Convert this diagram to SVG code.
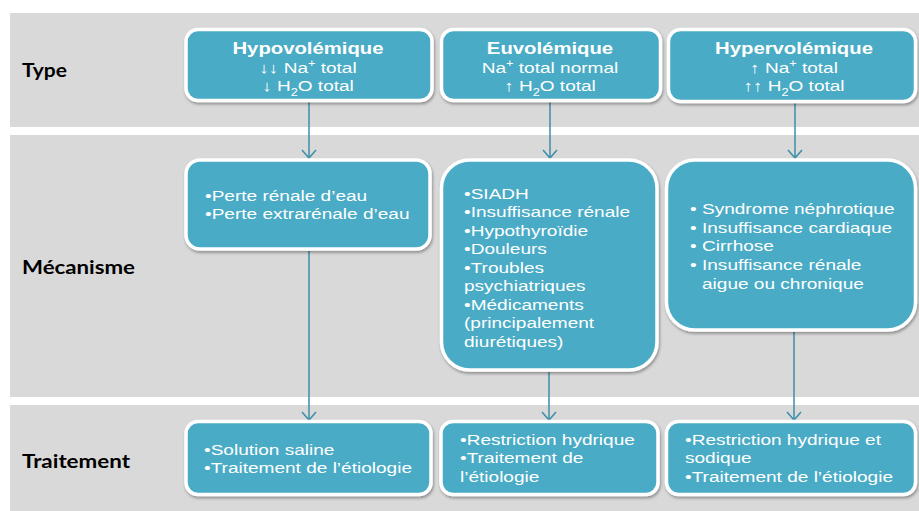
<svg xmlns="http://www.w3.org/2000/svg" width="919" height="511" viewBox="0 0 919 511">
<style>
.band{fill:#d9d9d9}
.box{fill:#4aabc5;stroke:#ffffff;stroke-width:3.5;filter:url(#sh)}
.lbl{font-family:Lato,"Open Sans","Liberation Sans",sans-serif;font-weight:bold;font-size:18px;fill:#000}
.h{font-family:"Liberation Sans",Arial,sans-serif;font-weight:bold;font-size:16px;fill:#fff}
.t{font-family:"Liberation Sans",Arial,sans-serif;font-size:15px;fill:#fff}
.sub{font-size:10px}
.con{stroke:#3d8ea9;stroke-width:1.5;fill:none}
</style>
<defs>
<filter id="sh" x="-10%" y="-10%" width="120%" height="130%">
<feDropShadow dx="1" dy="2" stdDeviation="1.5" flood-color="#000" flood-opacity="0.35"/>
</filter>
<marker id="ah" markerWidth="16" markerHeight="16" refX="10" refY="8" orient="auto" markerUnits="userSpaceOnUse" viewBox="0 0 16 16">
<path d="M2,1 L10,8 L2,15" fill="none" stroke="#3d8ea9" stroke-width="1.5"/>
</marker>
</defs>
<rect width="919" height="511" fill="#fff"/>
<g id="bands">
<rect class="band" x="10" y="13" width="909" height="114"/>
<rect class="band" x="10" y="135" width="909" height="262"/>
<rect class="band" x="10" y="405" width="909" height="106"/>
</g>
<g id="labels">
<text class="lbl" x="22" y="77" textLength="45" lengthAdjust="spacingAndGlyphs">Type</text>
<text class="lbl" x="22" y="274" textLength="113" lengthAdjust="spacingAndGlyphs">Mécanisme</text>
<text class="lbl" x="22" y="468" textLength="108" lengthAdjust="spacingAndGlyphs">Traitement</text>
</g>
<g id="connectors">
<line class="con" x1="309" y1="102" x2="309" y2="158" marker-end="url(#ah)"/>
<line class="con" x1="550" y1="102" x2="550" y2="158" marker-end="url(#ah)"/>
<line class="con" x1="795" y1="103" x2="795" y2="158" marker-end="url(#ah)"/>
<line class="con" x1="309" y1="251" x2="309" y2="420" marker-end="url(#ah)"/>
<line class="con" x1="549" y1="372" x2="549" y2="420" marker-end="url(#ah)"/>
<line class="con" x1="794" y1="332" x2="794" y2="420" marker-end="url(#ah)"/>
</g>
<g id="type-hypo">
<rect class="box" x="186" y="29.5" width="246" height="71" rx="12"/>
<text class="h" text-anchor="middle" transform="translate(308,54) scale(1.27,1)">Hypovolémique</text>
<text class="t" text-anchor="middle" transform="translate(308,72.5) scale(1.27,1)">↓↓ Na<tspan class="sub" baseline-shift="super">+</tspan> total</text>
<text class="t" text-anchor="middle" transform="translate(308,90.5) scale(1.27,1)">↓ H<tspan class="sub" baseline-shift="sub">2</tspan>O total</text>
</g>
<g id="type-euvo">
<rect class="box" x="441.5" y="29.5" width="219" height="71" rx="12"/>
<text class="h" text-anchor="middle" transform="translate(550,54) scale(1.27,1)">Euvolémique</text>
<text class="t" text-anchor="middle" transform="translate(550,72.5) scale(1.27,1)">Na<tspan class="sub" baseline-shift="super">+</tspan> total normal</text>
<text class="t" text-anchor="middle" transform="translate(550,90.5) scale(1.27,1)">↑ H<tspan class="sub" baseline-shift="sub">2</tspan>O total</text>
</g>
<g id="type-hyper">
<rect class="box" x="668.5" y="29.5" width="247" height="72" rx="12"/>
<text class="h" text-anchor="middle" transform="translate(794,54) scale(1.27,1)">Hypervolémique</text>
<text class="t" text-anchor="middle" transform="translate(794,72.5) scale(1.27,1)">↑ Na<tspan class="sub" baseline-shift="super">+</tspan> total</text>
<text class="t" text-anchor="middle" transform="translate(794,90.5) scale(1.27,1)">↑↑ H<tspan class="sub" baseline-shift="sub">2</tspan>O total</text>
</g>
<g id="meca-hypo">
<rect class="box" x="186" y="160" width="244" height="89" rx="14"/>
<text class="t" transform="translate(205,201) scale(1.27,1)"><tspan x="0" y="0">•Perte rénale d’eau</tspan><tspan x="0" y="18.5">•Perte extrarénale d’eau</tspan></text>
</g>
<g id="meca-euvo">
<rect class="box" x="441.5" y="160" width="215.5" height="210" rx="28"/>
<text class="t" transform="translate(464,199) scale(1.27,1)"><tspan x="0" y="0">•SIADH</tspan><tspan x="0" y="18.5">•Insuffisance rénale</tspan><tspan x="0" y="37">•Hypothyroïdie</tspan><tspan x="0" y="55.5">•Douleurs</tspan><tspan x="0" y="74">•Troubles</tspan><tspan x="0" y="92.5">psychiatriques</tspan><tspan x="0" y="111">•Médicaments</tspan><tspan x="0" y="129.5">(principalement</tspan><tspan x="0" y="148">diurétiques)</tspan></text>
</g>
<g id="meca-hyper">
<rect class="box" x="666.5" y="160" width="249" height="170" rx="28"/>
<text class="t" transform="translate(690,214) scale(1.27,1)"><tspan x="0" y="0">•</tspan><tspan x="0" y="18.7">•</tspan><tspan x="0" y="37.4">•</tspan><tspan x="0" y="56.1">•</tspan></text>
<text class="t" transform="translate(702,214) scale(1.27,1)"><tspan x="0" y="0">Syndrome néphrotique</tspan><tspan x="0" y="18.7">Insuffisance cardiaque</tspan><tspan x="0" y="37.4">Cirrhose</tspan><tspan x="0" y="56.1">Insuffisance rénale</tspan><tspan x="0" y="74.8">aigue ou chronique</tspan></text>
</g>
<g id="trait-hypo">
<rect class="box" x="186" y="421.5" width="245" height="73" rx="12"/>
<text class="t" transform="translate(204,454.5) scale(1.27,1)"><tspan x="0" y="0">•Solution saline</tspan><tspan x="0" y="18.3">•Traitement de l’étiologie</tspan></text>
</g>
<g id="trait-euvo">
<rect class="box" x="441" y="421.5" width="217" height="73" rx="12"/>
<text class="t" transform="translate(460,445) scale(1.27,1)"><tspan x="0" y="0">•Restriction hydrique</tspan><tspan x="0" y="18.3">•Traitement de</tspan><tspan x="0" y="36.6">l’étiologie</tspan></text>
</g>
<g id="trait-hyper">
<rect class="box" x="666.5" y="421.5" width="249" height="73" rx="12"/>
<text class="t" transform="translate(685,445) scale(1.27,1)"><tspan x="0" y="0">•Restriction hydrique et</tspan><tspan x="0" y="18.3">sodique</tspan><tspan x="0" y="36.6">•Traitement de l’étiologie</tspan></text>
</g>
</svg>
